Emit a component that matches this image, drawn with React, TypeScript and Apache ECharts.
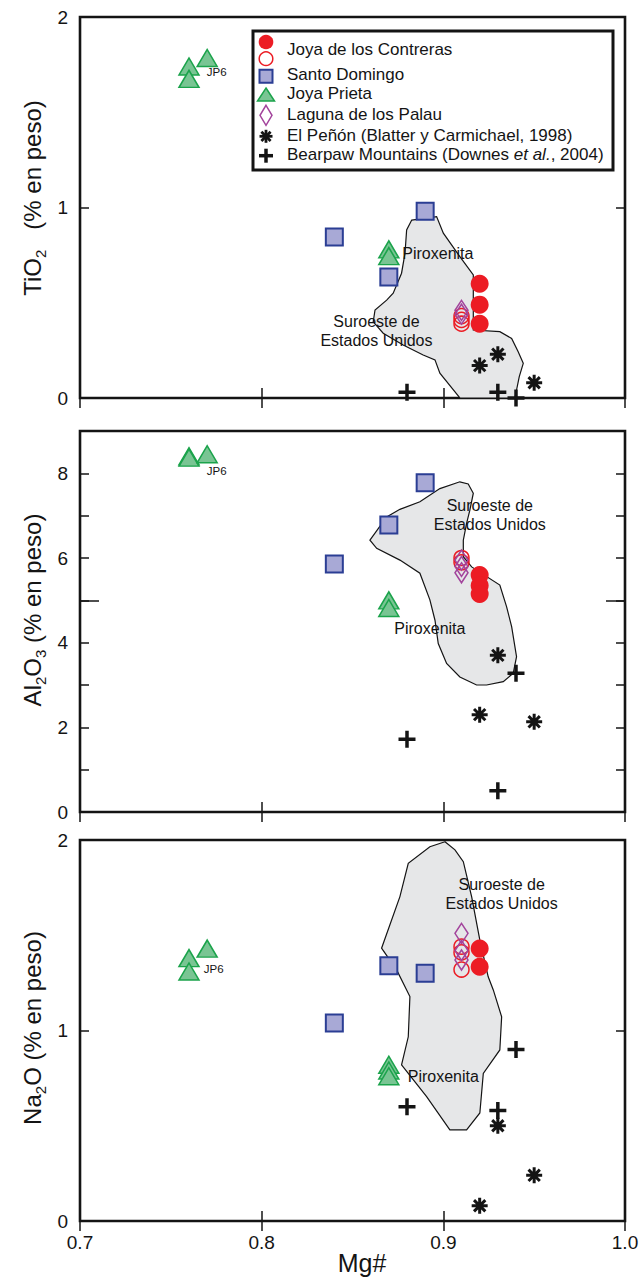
import React, { useEffect, useRef } from "react";
import * as echarts from "echarts";

const FONT = '"Liberation Sans", Arial, Helvetica, sans-serif';
const INK = "#141414";
const RED = "#ec1c24";
const SQ_FILL = "#a8a9d6";
const SQ_LINE = "#2b3e94";
const TR_FILL = "#79c593";
const TR_LINE = "#1ba34b";
const DIA = "#a3449c";
const FIELD = "#e6e7e8";

const xTicks = [0.7, 0.8, 0.9, 1.0];

// ---------- Panel 1: TiO2 ----------
const tiField = [
  [0.8826, 0.934], [0.8963, 0.952], [0.9, 0.865], [0.9091, 0.742], [0.9165, 0.646],
  [0.9165, 0.357], [0.9311, 0.348], [0.9376, 0.313], [0.9412, 0.243], [0.944, 0.182],
  [0.9418, 0.112], [0.9394, 0.0], [0.9091, 0.0], [0.8981, 0.13], [0.8954, 0.2],
  [0.8889, 0.226], [0.8779, 0.278], [0.8669, 0.34], [0.8614, 0.4], [0.8624, 0.462],
  [0.8688, 0.514], [0.8724, 0.55], [0.877, 0.655], [0.8789, 0.76], [0.8798, 0.882],
];
const tiContreras = [[0.92, 0.6], [0.92, 0.49], [0.92, 0.39]];
const tiContrerasOpen = [[0.91, 0.43], [0.91, 0.41], [0.91, 0.39]];
const tiSantoDomingo = [[0.89, 0.98], [0.84, 0.845], [0.87, 0.635]];
const tiJoyaPrieta = [[0.76, 1.74], [0.77, 1.785], [0.76, 1.675], [0.87, 0.78], [0.87, 0.745]];
const tiLaguna = [[0.91, 0.46], [0.91, 0.44]];
const tiPenon = [[0.92, 0.17], [0.93, 0.23], [0.95, 0.08]];
const tiBearpaw = [[0.88, 0.03], [0.93, 0.03], [0.94, 0.0]];
const tiNotes = [
  { name: "Piroxenita", value: [0.897, 0.761] },
  { name: "Suroeste de\nEstados Unidos", value: [0.8632, 0.352] },
  { name: "JP6", value: [0.7752, 1.713] },
];

// ---------- Panel 2: Al2O3 ----------
const alField = [
  [0.8596, 6.42], [0.8688, 6.97], [0.8761, 7.15], [0.8871, 7.33], [0.8981, 7.64],
  [0.9091, 7.8], [0.9137, 7.75], [0.9165, 7.53], [0.9146, 7.13], [0.9128, 6.82],
  [0.911, 6.42], [0.911, 6.03], [0.9156, 5.79], [0.9311, 5.36], [0.9348, 4.85],
  [0.9376, 4.38], [0.9403, 3.67], [0.9385, 3.28], [0.933, 3.08], [0.9238, 3.0],
  [0.9183, 3.0], [0.9091, 3.19], [0.9018, 3.51], [0.8972, 3.98], [0.8954, 4.53],
  [0.8926, 5.01], [0.8871, 5.64], [0.8761, 5.95], [0.8633, 6.23],
];
const alContreras = [[0.92, 5.6], [0.92, 5.35], [0.92, 5.15]];
const alContrerasOpen = [[0.91, 6.0], [0.91, 5.9]];
const alSantoDomingo = [[0.89, 7.78], [0.87, 6.78], [0.84, 5.86]];
const alJoyaPrieta = [[0.76, 8.4], [0.76, 8.37], [0.77, 8.45], [0.87, 5.0], [0.87, 4.82]];
const alLaguna = [[0.91, 5.95], [0.91, 5.8], [0.91, 5.65]];
const alPenon = [[0.93, 3.7], [0.92, 2.3], [0.95, 2.13]];
const alBearpaw = [[0.94, 3.28], [0.88, 1.72], [0.93, 0.5]];
const alNotes = [
  { name: "Piroxenita", value: [0.8926, 4.34] },
  { name: "Suroeste de\nEstados Unidos", value: [0.9256, 7.025] },
  { name: "JP6", value: [0.7752, 8.06] },
];

// ---------- Panel 3: Na2O ----------
const naField = [
  [0.9009, 1.991], [0.8926, 1.965], [0.8807, 1.878], [0.8761, 1.703], [0.866, 1.432],
  [0.8743, 1.318], [0.8816, 1.178], [0.8807, 0.967], [0.877, 0.819], [0.8908, 0.653],
  [0.9036, 0.478], [0.9128, 0.478], [0.9201, 0.567], [0.922, 0.775], [0.9311, 0.898],
  [0.9321, 1.072], [0.9275, 1.213], [0.9247, 1.282], [0.9201, 1.475], [0.9156, 1.702],
  [0.911, 1.886], [0.9064, 1.948],
];
const naContreras = [[0.92, 1.43], [0.92, 1.335]];
const naContrerasOpen = [[0.91, 1.44], [0.91, 1.41], [0.91, 1.32]];
const naSantoDomingo = [[0.87, 1.34], [0.89, 1.3], [0.84, 1.04]];
const naJoyaPrieta = [[0.76, 1.38], [0.77, 1.43], [0.76, 1.31], [0.87, 0.82], [0.87, 0.79], [0.87, 0.76]];
const naLaguna = [[0.91, 1.51], [0.91, 1.42], [0.91, 1.37]];
const naPenon = [[0.93, 0.5], [0.95, 0.24], [0.92, 0.08]];
const naBearpaw = [[0.94, 0.9], [0.88, 0.6], [0.93, 0.58]];
const naNotes = [
  { name: "Piroxenita", value: [0.9, 0.757] },
  { name: "Suroeste de\nEstados Unidos", value: [0.9321, 1.714] },
  { name: "JP6", value: [0.7736, 1.321] },
];

const legendLabels = [
  "Joya de los Contreras",
  "Santo Domingo",
  "Joya Prieta",
  "Laguna de los Palau",
  "El Peñón (Blatter y Carmichael, 1998)",
  "Bearpaw Mountains (Downes {i|et al.}, 2004)",
];

const ASTERISK = "path://M0,5L10,5M5,0L5,10M1.46,1.46L8.54,8.54M1.46,8.54L8.54,1.46";
const PLUS = "path://M0,5L10,5M5,0L5,10";

const panels = [
  {
    field: tiField, contreras: tiContreras, open: tiContrerasOpen, santo: tiSantoDomingo,
    prieta: tiJoyaPrieta, laguna: tiLaguna, penon: tiPenon, bearpaw: tiBearpaw, notes: tiNotes,
    yMax: 2, yInterval: 1,
  },
  {
    field: alField, contreras: alContreras, open: alContrerasOpen, santo: alSantoDomingo,
    prieta: alJoyaPrieta, laguna: alLaguna, penon: alPenon, bearpaw: alBearpaw, notes: alNotes,
    yMax: 9, yInterval: 1,
  },
  {
    field: naField, contreras: naContreras, open: naContrerasOpen, santo: naSantoDomingo,
    prieta: naJoyaPrieta, laguna: naLaguna, penon: naPenon, bearpaw: naBearpaw, notes: naNotes,
    yMax: 2, yInterval: 1,
  },
];

const gridBoxes = [
  { left: 80, top: 17, width: 545, height: 381 },
  { left: 80, top: 431, width: 545, height: 381 },
  { left: 80, top: 840, width: 545, height: 381 },
];

function buildOption() {
  const grid = gridBoxes.map((g) => ({
    ...g,
    show: true,
    borderColor: INK,
    borderWidth: 2.6,
    backgroundColor: "transparent",
  }));

  const tickStyle = { lineStyle: { color: INK, width: 1.5 } };
  const xAxis: any[] = [];
  const yAxis: any[] = [];
  const series: any[] = [];

  panels.forEach((p, i) => {
    xAxis.push({
      type: "value", gridIndex: i, min: 0.7, max: 1.0, interval: 0.1, position: "bottom",
      axisLine: { show: false }, splitLine: { show: false },
      axisTick: { show: true, inside: true, length: 10, ...tickStyle },
      axisLabel: {
        show: i === 2, margin: 12, color: INK, fontSize: 19, fontFamily: FONT,
        formatter: (v: number) => v.toFixed(1),
      },
    });
    xAxis.push({
      type: "value", gridIndex: i, min: 0.7, max: 1.0, interval: 0.1, position: "top",
      axisLine: { show: false }, splitLine: { show: false },
      axisTick: { show: true, inside: true, length: 10, ...tickStyle },
      axisLabel: { show: false },
    });
    yAxis.push({
      type: "value", gridIndex: i, min: 0, max: p.yMax, interval: p.yInterval, position: "left",
      axisLine: { show: false }, splitLine: { show: false },
      axisTick: { show: true, inside: true, length: 9, ...tickStyle },
      axisLabel: {
        show: true, margin: 12, color: INK, fontSize: 19, fontFamily: FONT,
        formatter: (v: number) => (p.yMax === 9 ? (v % 2 === 0 ? String(v) : "") : String(v)),
      },
    });
    yAxis.push({
      type: "value", gridIndex: i, min: 0, max: p.yMax, interval: p.yInterval, position: "right",
      axisLine: { show: false }, splitLine: { show: false },
      axisTick: { show: true, inside: true, length: 9, ...tickStyle },
      axisLabel: { show: false },
    });
  });
  // long middle ticks on the Al2O3 panel
  ["left", "right"].forEach((pos) => {
    yAxis.push({
      type: "value", gridIndex: 1, min: 0, max: 9, interval: 5, position: pos,
      axisLine: { show: false }, splitLine: { show: false },
      axisTick: { show: true, inside: true, length: 19, ...tickStyle },
      axisLabel: { show: false },
    });
  });

  panels.forEach((p, i) => {
    const ax = { xAxisIndex: 2 * i, yAxisIndex: 2 * i };
    const field = p.field;
    series.push({
      type: "custom", ...ax, silent: true, z: 1,
      data: field,
      encode: { x: 0, y: 1 },
      renderItem: (params: any, api: any) => {
        if (params.dataIndex !== 0) return null;
        const pts = field.map((pt) => api.coord(pt));
        return {
          type: "polygon",
          shape: { points: pts },
          style: { fill: FIELD, stroke: INK, lineWidth: 1.2 },
        };
      },
    });
    const common = { type: "scatter", ...ax, silent: true, clip: false, z: 3 };
    series.push({
      ...common, name: "Santo Domingo", data: p.santo, symbol: "rect", symbolSize: 17,
      itemStyle: { color: SQ_FILL, borderColor: SQ_LINE, borderWidth: 2, opacity: 1 },
    });
    series.push({
      ...common, name: "Joya Prieta", data: p.prieta, symbol: "triangle", symbolSize: [20, 17],
      itemStyle: { color: TR_FILL, borderColor: TR_LINE, borderWidth: 1.5, opacity: 1 },
    });
    series.push({
      ...common, name: "Joya de los Contreras (abierto)", data: p.open, symbol: "circle", symbolSize: 15,
      itemStyle: { color: "transparent", borderColor: RED, borderWidth: 1.5, opacity: 1 },
    });
    series.push({
      ...common, name: "Laguna de los Palau", data: p.laguna, symbol: "diamond", symbolSize: [13, 20],
      itemStyle: { color: "transparent", borderColor: DIA, borderWidth: 1.6, opacity: 1 },
    });
    series.push({
      ...common, name: "Joya de los Contreras", data: p.contreras, symbol: "circle", symbolSize: 18,
      itemStyle: { color: RED, opacity: 1 },
    });
    series.push({
      ...common, name: "El Peñón", data: p.penon, symbol: ASTERISK, symbolSize: 16,
      itemStyle: { color: INK, borderColor: INK, borderWidth: 3, opacity: 1 },
    });
    series.push({
      ...common, name: "Bearpaw Mountains", data: p.bearpaw, symbol: PLUS, symbolSize: 17,
      itemStyle: { color: INK, borderColor: INK, borderWidth: 3.5, opacity: 1 },
    });
    series.push({
      type: "scatter", ...ax, silent: true, clip: false, z: 5,
      data: p.notes.map((d) => (d.name === "JP6" ? { ...d, label: { fontSize: 11.5 } } : d)),
      symbolSize: 1, itemStyle: { color: "transparent", opacity: 1 },
      label: {
        show: true, position: "inside", formatter: "{b}", color: INK, opacity: 1,
        fontFamily: FONT, fontSize: 16, lineHeight: 19, align: "center",
      },
    });
  });

  const titleRich = (lh: number) => ({
    a: { fontSize: 24, fontFamily: FONT, fill: INK, color: INK, lineHeight: lh },
    s: { fontSize: 15, fontFamily: FONT, fill: INK, color: INK, lineHeight: 15, verticalAlign: "bottom" },
  });
  const yTitle = (text: string, x: number, y: number) => ({
    type: "text", x, y, rotation: Math.PI / 2, z: 10,
    style: {
      text, rich: titleRich(32), fontSize: 24, fontFamily: FONT, fill: INK,
      align: "center", verticalAlign: "middle", textAlign: "center", textVerticalAlign: "middle",
    },
  });

  const lx = 266;
  const legendY = [49.7, 74.2, 93.5, 114, 135.3, 154.7];
  const graphic: any[] = [
    yTitle("{a|TiO}{s|2}{a|   (% en peso)}", 32, 198),
    yTitle("{a|Al}{s|2}{a|O}{s|3}{a| (% en peso)}", 32, 610),
    yTitle("{a|Na}{s|2}{a|O (% en peso)}", 32, 1028),
    {
      type: "text", x: 362, y: 1263, z: 10,
      style: {
        text: "Mg#", fontSize: 25, fontFamily: FONT, fill: INK,
        align: "center", verticalAlign: "middle", textAlign: "center", textVerticalAlign: "middle",
      },
    },
    {
      type: "rect", z: 20, shape: { x: 253, y: 31, width: 360, height: 139 },
      style: { fill: "#ffffff", stroke: INK, lineWidth: 3 },
    },
    { type: "circle", z: 21, shape: { cx: lx, cy: 42, r: 7.3 }, style: { fill: RED } },
    { type: "circle", z: 21, shape: { cx: lx, cy: 58.7, r: 6.8 }, style: { fill: "none", stroke: RED, lineWidth: 1.5 } },
    { type: "rect", z: 21, shape: { x: lx - 6.5, y: 69.8, width: 13, height: 13 }, style: { fill: SQ_FILL, stroke: SQ_LINE, lineWidth: 2 } },
    { type: "polygon", z: 21, shape: { points: [[lx, 88], [lx + 8.5, 101], [lx - 8.5, 101]] }, style: { fill: TR_FILL, stroke: TR_LINE, lineWidth: 1.5 } },
    { type: "polygon", z: 21, shape: { points: [[lx, 105.3], [lx + 6, 115.3], [lx, 125.3], [lx - 6, 115.3]] }, style: { fill: "none", stroke: DIA, lineWidth: 1.5 } },
    { type: "line", z: 21, shape: { x1: lx - 6.5, y1: 136.3, x2: lx + 6.5, y2: 136.3 }, style: { stroke: INK, lineWidth: 2.8 } },
    { type: "line", z: 21, shape: { x1: lx, y1: 129.8, x2: lx, y2: 142.8 }, style: { stroke: INK, lineWidth: 2.8 } },
    { type: "line", z: 21, shape: { x1: lx - 4.6, y1: 131.7, x2: lx + 4.6, y2: 140.9 }, style: { stroke: INK, lineWidth: 2.8 } },
    { type: "line", z: 21, shape: { x1: lx - 4.6, y1: 140.9, x2: lx + 4.6, y2: 131.7 }, style: { stroke: INK, lineWidth: 2.8 } },
    { type: "line", z: 21, shape: { x1: lx - 7, y1: 155.7, x2: lx + 7, y2: 155.7 }, style: { stroke: INK, lineWidth: 3.5 } },
    { type: "line", z: 21, shape: { x1: lx, y1: 148.7, x2: lx, y2: 162.7 }, style: { stroke: INK, lineWidth: 3.5 } },
  ];
  legendLabels.forEach((t, k) => {
    graphic.push({
      type: "text", x: 287, y: legendY[k], z: 22,
      style: {
        text: t.indexOf("{i|") >= 0 ? "{n|" + t.replace("{i|et al.}", "}{i|et al.}{n|") + "}" : t,
        fontSize: 17, fontFamily: FONT, fill: INK,
        rich: {
          n: { fontSize: 17, fontFamily: FONT, fill: INK },
          i: { fontSize: 17, fontFamily: FONT, fill: INK, fontStyle: "italic" },
        },
        align: "left", verticalAlign: "middle", textAlign: "left", textVerticalAlign: "middle",
      },
    });
  });

  return {
    animation: false,
    backgroundColor: "#ffffff",
    textStyle: { fontFamily: FONT },
    grid,
    xAxis,
    yAxis,
    series,
    graphic,
  };
}

export default function App() {
  const ref = useRef<HTMLDivElement>(null);
  useEffect(() => {
    if (!ref.current) return;
    const chart = echarts.init(ref.current, null, { renderer: "svg" });
    chart.setOption(buildOption() as any);
    return () => chart.dispose();
  }, []);
  return (
    <div
      ref={ref}
      style={{ position: "fixed", left: 0, top: 0, width: 642, height: 1278, background: "#fff" }}
    />
  );
}
